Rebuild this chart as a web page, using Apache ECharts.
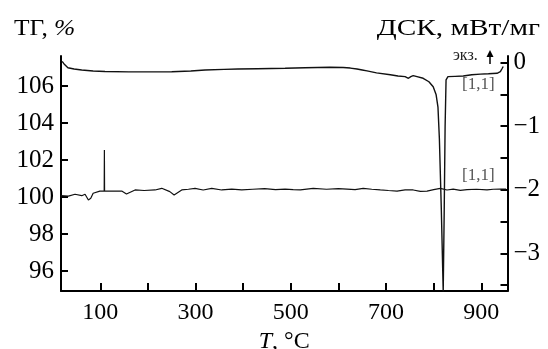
<!DOCTYPE html>
<html>
<head>
<meta charset="utf-8">
<script src="https://cdn.jsdelivr.net/npm/echarts@6/dist/echarts.min.js"></script>
<style>
  html, body { margin: 0; padding: 0; background: #fff; }
  #chart { width: 548px; height: 349px; }
</style>
</head>
<body>
<div id="chart"></div>
<script>
// ДСК (upper curve, right axis), mW/mg
const dscTemp = [20, 25, 32, 45, 61, 85, 110, 160, 210, 250, 290, 320, 360, 389, 430, 488, 530, 582, 610, 625, 639, 650, 660, 680, 709, 725, 740, 747, 752, 757, 765, 778, 790, 799, 805, 809, 812, 816, 820, 822, 824, 826, 830, 845, 862, 880, 898, 915, 933, 940, 944, 946];
const dscValue = [0.02, -0.03, -0.08, -0.1, -0.115, -0.13, -0.14, -0.145, -0.145, -0.142, -0.13, -0.115, -0.105, -0.1, -0.095, -0.088, -0.08, -0.072, -0.075, -0.085, -0.1, -0.115, -0.13, -0.16, -0.19, -0.21, -0.22, -0.246, -0.22, -0.205, -0.22, -0.246, -0.3, -0.38, -0.5, -0.7, -1.2, -2.3, -3.6, -2.4, -1.0, -0.27, -0.22, -0.215, -0.21, -0.19, -0.18, -0.175, -0.167, -0.142, -0.088, -0.06];

// ТГ (lower curve, left axis), %
const tgTemp = [17, 33, 47, 61, 68, 75, 80, 85, 99, 108.2, 108.6, 109, 145, 155, 173, 192, 215, 229, 246, 255, 271, 285, 299, 316, 334, 355, 376, 397, 420, 445, 468, 488, 505, 520, 547, 575, 600, 618, 635, 652, 670, 688, 705, 723, 740, 757, 772, 786, 800, 814, 828, 841, 856, 870, 890, 912, 925, 940, 952];
const tgValue = [100.07, 100.05, 100.15, 100.07, 100.15, 99.84, 99.93, 100.2, 100.32, 100.32, 102.54, 100.32, 100.32, 100.16, 100.38, 100.35, 100.38, 100.47, 100.29, 100.11, 100.38, 100.42, 100.47, 100.38, 100.47, 100.38, 100.43, 100.38, 100.42, 100.45, 100.4, 100.43, 100.4, 100.38, 100.47, 100.42, 100.45, 100.43, 100.4, 100.47, 100.42, 100.38, 100.35, 100.32, 100.38, 100.38, 100.3, 100.32, 100.4, 100.47, 100.38, 100.43, 100.36, 100.4, 100.42, 100.38, 100.42, 100.43, 100.43];

const xTicks = [100, 200, 300, 400, 500, 600, 700, 800, 900];
const xLabels = [100, 300, 500, 700, 900];
const tgTicks = [96, 98, 100, 102, 104, 106];
const dscTicks = [-3.5, -3, -2.5, -2, -1.5, -1, -0.5, 0];
const dscLabels = [-3, -2, -1, 0];

const serif = "'Liberation Serif', 'DejaVu Serif', serif";
const ink = "#000";

const chart = echarts.init(document.getElementById("chart"), null, { renderer: "canvas" });

chart.setOption({
  animation: false,
  backgroundColor: "#fff",
  grid: { left: 61, right: 40.5, top: 56, bottom: 58, outerBoundsMode: "none", containLabel: false },
  xAxis: {
    type: "value",
    min: 17.5,
    max: 955,
    axisLine: { onZero: false, lineStyle: { color: ink, width: 2 } },
    axisTick: { inside: true, length: 8, lineStyle: { color: ink, width: 2 }, customValues: xTicks },
    axisLabel: { color: ink, fontFamily: serif, fontSize: 24, margin: 10, customValues: xLabels },
    splitLine: { show: false },
    name: "{i|T}, °C",
    nameLocation: "middle",
    nameGap: 31,
    nameTextStyle: {
      color: ink, fontFamily: serif, fontSize: 24,
      rich: { i: { fontStyle: "italic", fontFamily: serif, fontSize: 24, color: ink } },
    },
  },
  yAxis: [
    {
      type: "value",
      position: "left",
      min: 94.92,
      max: 107.62,
      axisLine: { show: true, onZero: false, lineStyle: { color: ink, width: 2 } },
      axisTick: { inside: true, length: 7, lineStyle: { color: ink, width: 2 }, customValues: tgTicks },
      axisLabel: { color: ink, fontFamily: serif, fontSize: 25, margin: 7, customValues: tgTicks },
      splitLine: { show: false },
    },
    {
      type: "value",
      position: "right",
      min: -3.594,
      max: 0.105,
      axisLine: { show: true, onZero: false, lineStyle: { color: ink, width: 2 } },
      axisTick: { inside: true, length: 7, lineStyle: { color: ink, width: 2 }, customValues: dscTicks },
      axisLabel: {
        color: ink, fontFamily: serif, fontSize: 25, margin: 6, customValues: dscLabels,
        formatter: (v) => (v === 0 ? "0" : "\u2212" + Math.abs(v)),
      },
      splitLine: { show: false },
    },
  ],
  graphic: [
    { type: "text", x: 14, y: 17, scaleX: 1.06, style: { text: "ТГ, {i|%}", font: "24px " + serif, fill: ink,
      rich: { i: { fontStyle: "italic", fontSize: 24, fontFamily: serif } } } },
    { type: "text", x: 540, y: 17, scaleX: 1.22, style: { text: "ДСК, мВт/мг", font: "24px " + serif, fill: ink, align: "right" } },
    { type: "text", x: 453, y: 48, style: { text: "экз.", font: "16px " + serif, fill: "#222" } },
    { type: "line", shape: { x1: 490, y1: 64, x2: 490, y2: 55 }, style: { stroke: ink, lineWidth: 1.5 } },
    { type: "polygon", shape: { points: [[486.5, 57], [490, 50], [493.5, 57]] }, style: { fill: ink } },
    { type: "text", x: 462, y: 76, style: { text: "[1,1]", font: "17px " + serif, fill: "#555" } },
    { type: "text", x: 462, y: 167, style: { text: "[1,1]", font: "17px " + serif, fill: "#555" } },
  ],
  series: [
    {
      name: "ТГ",
      type: "line",
      yAxisIndex: 0,
      showSymbol: false,
      lineStyle: { color: "#111", width: 1.2 },
      data: tgTemp.map((t, i) => [t, tgValue[i]]),
    },
    {
      name: "ДСК",
      type: "line",
      yAxisIndex: 1,
      showSymbol: false,
      lineStyle: { color: "#111", width: 1.4 },
      data: dscTemp.map((t, i) => [t, dscValue[i]]),
    },
  ],
});
</script>
</body>
</html>
